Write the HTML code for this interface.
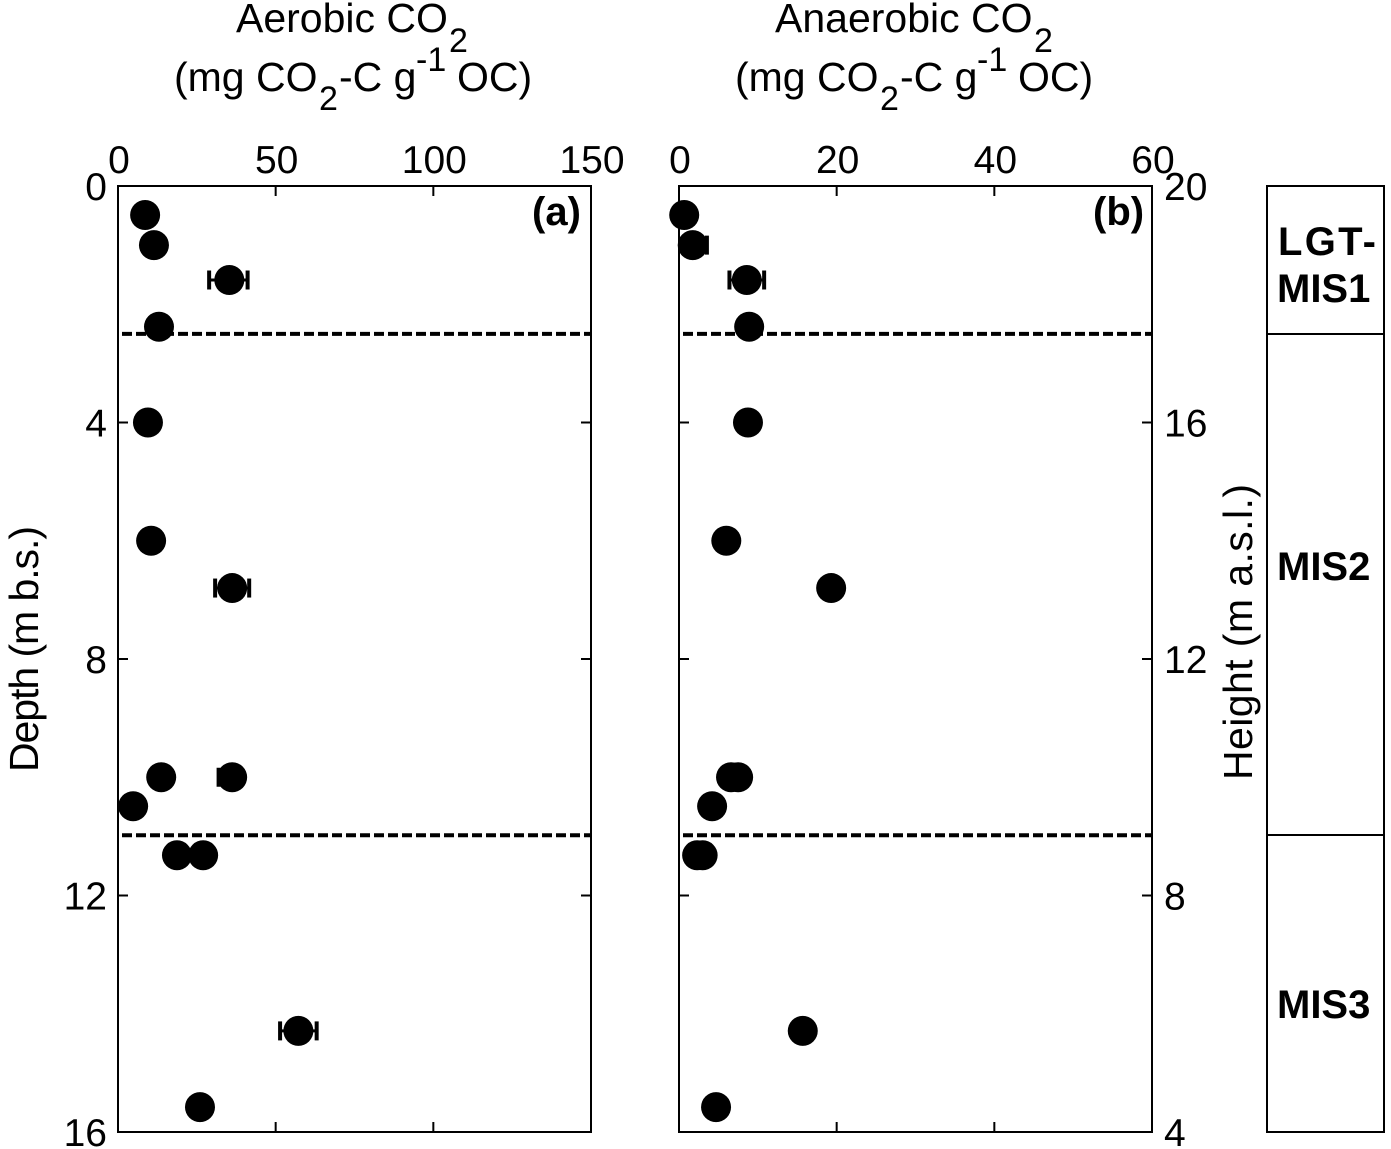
<!DOCTYPE html>
<html>
<head>
<meta charset="utf-8">
<title>Aerobic and anaerobic CO2 by depth</title>
<style>
html,body{margin:0;padding:0;background:#fff;width:1391px;height:1149px;overflow:hidden}
svg{display:block}
text{font-family:"Liberation Sans",sans-serif;fill:#000}
.tick{font-size:39px}
.title{font-size:41px}
.sub{font-size:34px}
.bold{font-size:40px;font-weight:bold}
</style>
</head>
<body>
<svg id="chart" xmlns="http://www.w3.org/2000/svg" width="1391" height="1149" viewBox="0 0 1391 1149">
  <g>
    <text class="title" x="236" y="32">Aerobic CO</text>
    <text class="sub" x="449" y="52">2</text>
    <text class="title" x="174" y="91">(mg CO</text>
    <text class="sub" x="319" y="110">2</text>
    <text class="title" x="339" y="91">-C g</text>
    <text class="sub" x="416" y="71">-1</text>
    <text class="title" x="457" y="91">OC)</text>
  </g>
  <g>
    <text class="title" x="775" y="32">Anaerobic CO</text>
    <text class="sub" x="1034" y="52">2</text>
    <text class="title" x="735" y="91">(mg CO</text>
    <text class="sub" x="880" y="110">2</text>
    <text class="title" x="900" y="91">-C g</text>
    <text class="sub" x="977" y="71">-1</text>
    <text class="title" x="1018" y="91">OC)</text>
  </g>
  <text class="title" transform="translate(38,772) rotate(-90)" textLength="246" lengthAdjust="spacing">Depth (m b.s.)</text>
  <text class="title" transform="translate(1252,780) rotate(-90)" textLength="296" lengthAdjust="spacing">Height (m a.s.l.)</text>
  <text class="bold" x="532" y="225">(a)</text>
  <text class="bold" x="1093" y="225">(b)</text>
  <g>
    <rect x="1267" y="186" width="117" height="946" fill="none" stroke="#000" stroke-width="2"/>
    <line x1="1267" x2="1384" y1="334" y2="334" stroke="#000" stroke-width="2"/>
    <line x1="1267" x2="1384" y1="835" y2="835" stroke="#000" stroke-width="2"/>
    <text class="bold" x="1278" y="255" textLength="98" lengthAdjust="spacing">LGT-</text>
    <text class="bold" x="1277" y="302">MIS1</text>
    <text class="bold" x="1277" y="580">MIS2</text>
    <text class="bold" x="1277" y="1018">MIS3</text>
  </g>
</svg>
<script>
var depths = [0.49, 1.0, 1.59, 2.38, 4.0, 6.0, 6.8, 10.0, 10.0, 10.49, 11.32, 11.32, 14.29, 15.58];
var aerobicValues = [8.6, 11.4, 35.3, 13.0, 9.5, 10.5, 36.2, 13.7, 36.2, 4.8, 18.7, 27.0, 57.2, 26.0];
var aerobicErrorsLow = [0, 0, 6.4, 0, 0, 0, 5.4, 0, 4.3, 0, 0, 0, 5.8, 0];
var aerobicErrorsHigh = [0, 0, 5.8, 0, 0, 0, 5.4, 0, 3.0, 0, 0, 0, 5.8, 0];
var anaerobicValues = [0.66, 1.74, 8.6, 8.9, 8.75, 6.0, 19.3, 6.6, 7.5, 4.2, 2.3, 3.0, 15.7, 4.7];
var anaerobicErrorsLow = [0, 1.2, 2.2, 0, 0, 0, 0, 0, 0, 0, 0, 0, 0, 0];
var anaerobicErrorsHigh = [0, 1.8, 2.2, 0, 0, 0, 0, 0, 0, 0, 0, 0, 0, 0];
var aerobicTicks = [0, 50, 100, 150];
var anaerobicTicks = [0, 20, 40, 60];
var depthTicks = [0, 4, 8, 12, 16];
var heightTicks = [20, 16, 12, 8, 4];
var boundaryDepths = [2.5, 10.98];

var NS = 'http://www.w3.org/2000/svg';
var svg = document.getElementById('chart');
var plotTop = 186, plotBottom = 1132;
var depthMax = 16;

function yScale(d) { return plotTop + (d / depthMax) * (plotBottom - plotTop); }
function make(tag, attrs, parent) {
  var el = document.createElementNS(NS, tag);
  for (var k in attrs) el.setAttribute(k, attrs[k]);
  parent.appendChild(el);
  return el;
}

function drawPanel(key, left, right, xMax, xTicks, values, errLow, errHigh) {
  function xScale(v) { return left + (v / xMax) * (right - left); }
  var g = make('g', {}, svg);
  
  

  // x ticks and labels
  xTicks.forEach(function (t) {
    var x = xScale(t);
    var label = make('text', { 'class': 'tick', x: x + 1, y: 173, 'text-anchor': 'middle' }, g);
    label.textContent = t;
    
    
    if (t > 0 && t < xMax) {
      var top = make('line', { x1: x, x2: x, y1: plotTop, y2: plotTop + 10, stroke: '#000', 'stroke-width': 2 }, g);
      
      
      var bottom = make('line', { x1: x, x2: x, y1: plotBottom, y2: plotBottom - 10, stroke: '#000', 'stroke-width': 2 }, g);
      
      
    }
  });

  // y ticks
  depthTicks.forEach(function (d) {
    if (d === 0 || d === depthMax) return;
    var y = yScale(d);
    var l = make('line', { x1: left, x2: left + 10, y1: y, y2: y, stroke: '#000', 'stroke-width': 2 }, g);
    
    
    var r = make('line', { x1: right, x2: right - 10, y1: y, y2: y, stroke: '#000', 'stroke-width': 2 }, g);
    
    
  });

  // boundaries
  boundaryDepths.forEach(function (d) {
    var y = yScale(d);
    var b = make('line', { x1: left + 4, x2: right, y1: y, y2: y, stroke: '#000', 'stroke-width': 4, 'stroke-dasharray': '10 4' }, g);
    
    
  });

  // error bars
  depths.forEach(function (d, i) {
    if (!errLow[i] && !errHigh[i]) return;
    var y = yScale(d);
    var x0 = xScale(values[i] - errLow[i]);
    var x1 = xScale(values[i] + errHigh[i]);
    var stem = make('line', { x1: x0, x2: x1, y1: y, y2: y, stroke: '#000', 'stroke-width': 3 }, g);
    
    
    [x0, x1].forEach(function (cx) {
      var cap = make('line', { x1: cx, x2: cx, y1: y - 9.5, y2: y + 9.5, stroke: '#000', 'stroke-width': 4 }, g);
      
      
    });
  });

  // points
  depths.forEach(function (d, i) {
    var c = make('circle', { cx: xScale(values[i]), cy: yScale(d), r: 15, fill: '#000' }, g);
    
    
  });

  // frame
  var frame = make('rect', { x: left, y: plotTop, width: right - left, height: plotBottom - plotTop, fill: 'none', stroke: '#000', 'stroke-width': 2 }, g);
  
  
}

drawPanel('panel-a', 118, 591, 150, aerobicTicks, aerobicValues, aerobicErrorsLow, aerobicErrorsHigh);
drawPanel('panel-b', 679, 1152, 60, anaerobicTicks, anaerobicValues, anaerobicErrorsLow, anaerobicErrorsHigh);

depthTicks.forEach(function (d) {
  var t = make('text', { 'class': 'tick', x: 107, y: yScale(d) + 14, 'text-anchor': 'end' }, svg);
  t.textContent = d;
  
  
});
heightTicks.forEach(function (h) {
  var t = make('text', { 'class': 'tick', x: 1164, y: yScale((20 - h)) + 14 }, svg);
  t.textContent = h;
  
  
});
</script>
</body>
</html>
